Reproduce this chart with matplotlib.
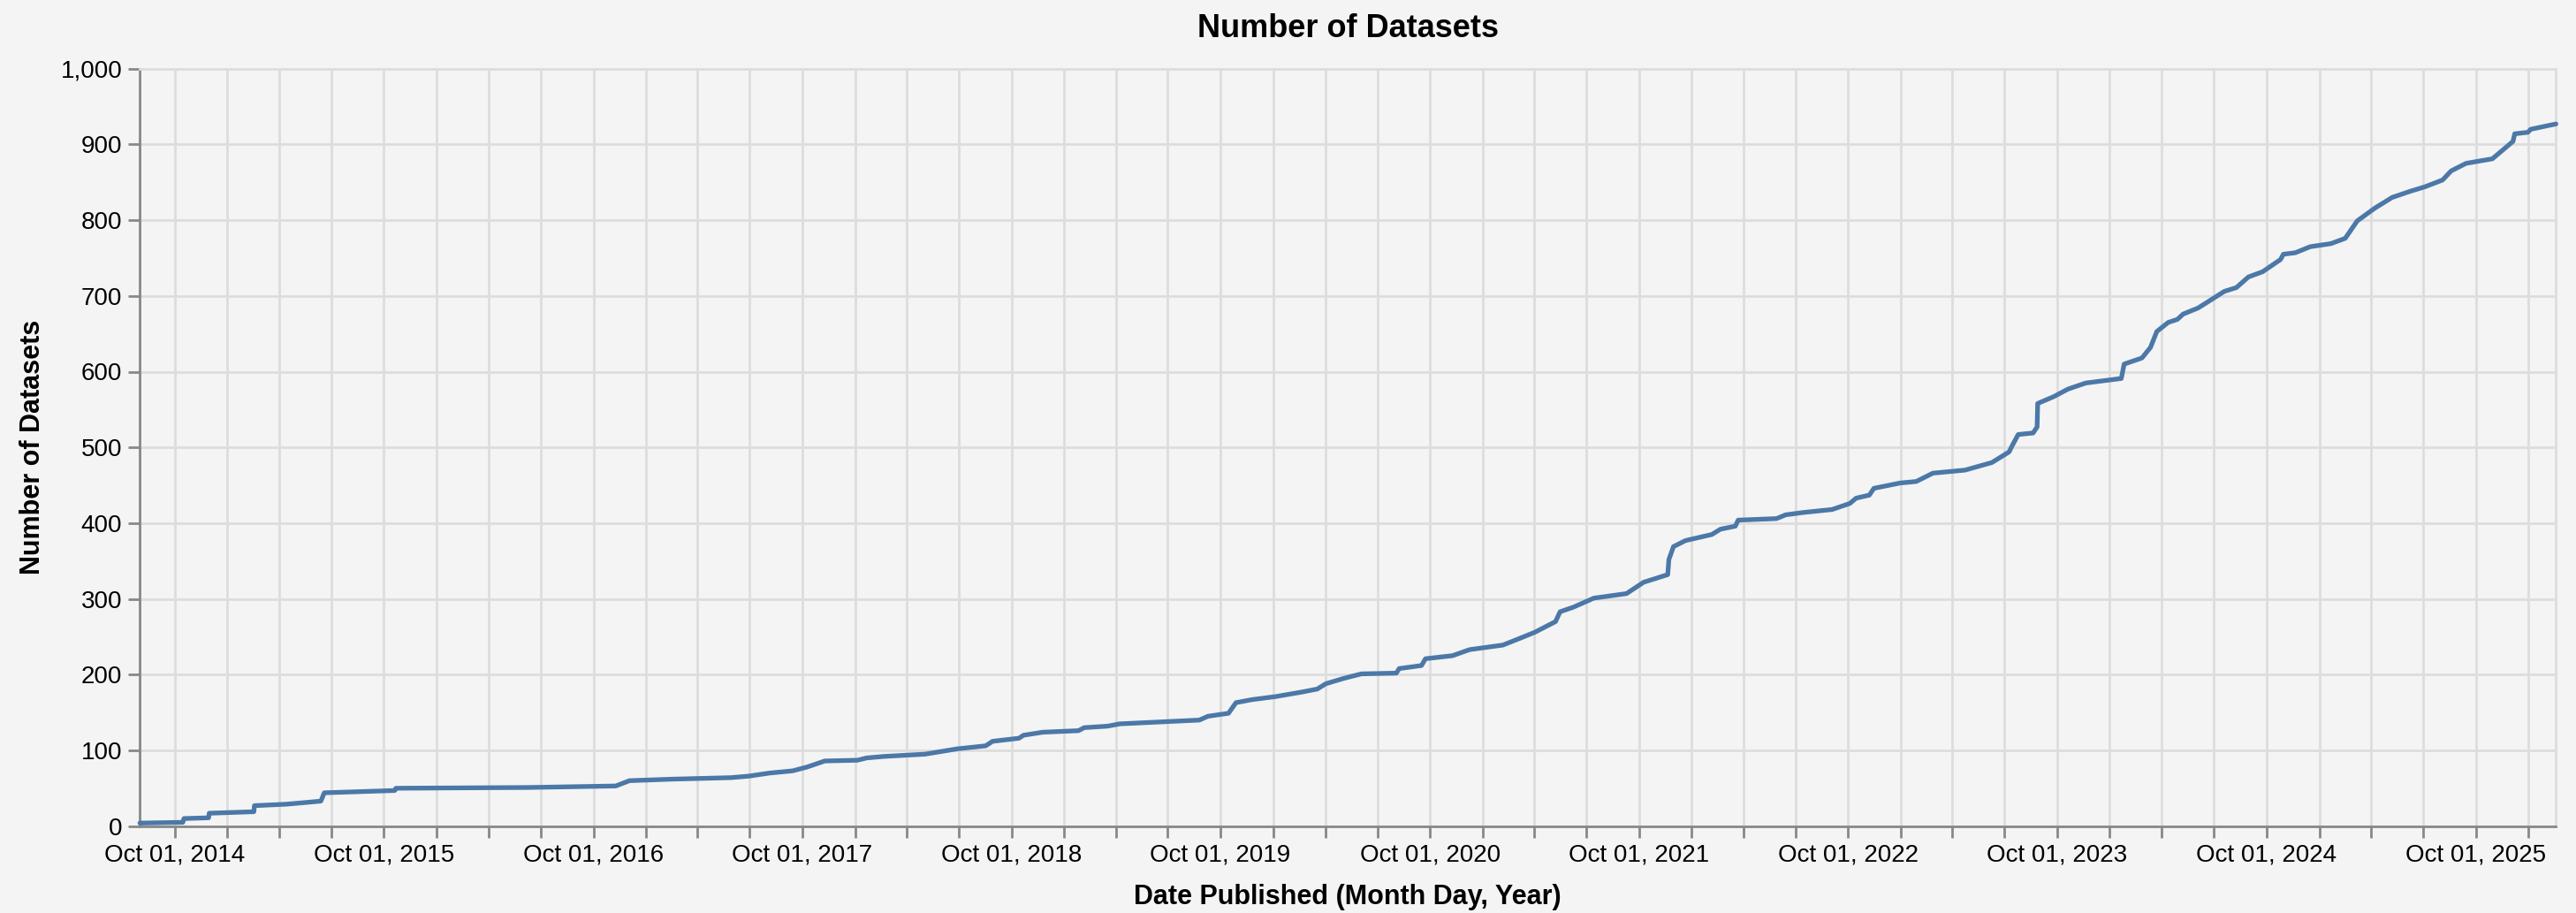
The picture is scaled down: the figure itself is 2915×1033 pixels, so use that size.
import matplotlib
matplotlib.use("Agg")
import matplotlib.pyplot as plt
import matplotlib.dates as mdates
import numpy as np
from matplotlib.ticker import FuncFormatter, FixedLocator

# ---- data ----
dates = [
    "2014-08-01", "2014-10-15", "2014-10-17", "2014-11-29", "2014-11-30",
    "2015-02-16", "2015-02-17", "2015-04-15", "2015-06-13", "2015-06-19",
    "2015-10-20", "2015-10-22", "2016-06-08", "2016-11-09", "2016-12-03",
    "2017-02-15", "2017-05-29", "2017-06-29", "2017-08-04", "2017-09-14",
    "2017-10-09", "2017-11-09", "2018-01-05", "2018-01-21", "2018-02-20",
    "2018-05-03", "2018-06-28", "2018-08-17", "2018-08-29", "2018-10-14",
    "2018-10-22", "2018-11-25", "2019-01-26", "2019-02-05", "2019-03-18",
    "2019-04-08", "2019-08-25", "2019-09-09", "2019-10-15", "2019-10-28",
    "2019-11-25", "2020-01-05", "2020-02-20", "2020-03-18", "2020-04-02",
    "2020-05-03", "2020-06-03", "2020-08-03", "2020-08-08", "2020-09-16",
    "2020-09-23", "2020-11-09", "2020-12-09", "2021-02-05", "2021-03-07",
    "2021-04-02", "2021-05-08", "2021-05-16", "2021-06-08", "2021-07-14",
    "2021-09-09", "2021-10-09", "2021-11-20", "2021-11-22", "2021-11-30",
    "2021-12-21", "2022-02-05", "2022-02-20", "2022-03-18", "2022-03-23",
    "2022-05-29", "2022-06-14", "2022-07-14", "2022-09-03", "2022-10-04",
    "2022-10-15", "2022-11-07", "2022-11-15", "2022-12-31", "2023-01-28",
    "2023-02-26", "2023-04-23", "2023-06-09", "2023-07-09", "2023-07-15",
    "2023-07-25", "2023-08-20", "2023-08-27", "2023-08-28", "2023-09-25",
    "2023-10-20", "2023-11-20", "2024-01-21", "2024-01-26", "2024-02-26",
    "2024-03-12", "2024-03-23", "2024-04-12", "2024-04-28", "2024-05-08",
    "2024-06-03", "2024-06-24", "2024-07-19", "2024-08-09", "2024-08-30",
    "2024-09-24", "2024-10-25", "2024-10-30", "2024-11-20", "2024-12-16",
    "2025-01-21", "2025-02-15", "2025-03-08", "2025-04-08", "2025-05-08",
    "2025-06-08", "2025-07-04", "2025-08-04", "2025-08-19", "2025-09-14",
    "2025-10-30", "2025-12-05", "2025-12-08", "2025-12-31", "2026-01-05",
    "2026-01-30", "2026-02-18",
]
counts = [
    4, 5, 10, 11, 17,
    19, 27, 29, 33, 44,
    47, 50, 51, 53, 60,
    62, 64, 66, 70, 73,
    78, 86, 87, 90, 92,
    95, 102, 106, 112, 116,
    120, 124, 126, 130, 132,
    135, 140, 145, 149, 163,
    167, 171, 177, 181, 188,
    195, 201, 202, 208, 212,
    221, 225, 233, 239, 248,
    256, 270, 283, 289, 301,
    307, 322, 332, 352, 369,
    377, 385, 392, 396, 404,
    406, 411, 414, 418, 426,
    433, 437, 446, 453, 455,
    466, 470, 480, 494, 503,
    517, 519, 527, 558, 567,
    577, 585, 591, 610, 618,
    632, 653, 665, 669, 676,
    684, 694, 706, 711, 725,
    732, 748, 755, 757, 765,
    769, 776, 799, 816, 830,
    838, 844, 853, 865, 875,
    881, 904, 914, 916, 920,
    924, 927,
]
y_ticks = [0, 100, 200, 300, 400, 500, 600, 700, 800, 900, 1000]
x_start = "2014-08-01"
x_end = "2026-02-18"
title = "Number of Datasets"
x_title = "Date Published (Month Day, Year)"
y_title = "Number of Datasets"

# ---- style ----
W, H, DPI = 2915, 1033, 100
BG = "#f4f4f4"
GRID = "#dddddd"
DOMAIN = "#888888"
LINE = "#4c78a8"
FONT = ["Liberation Sans", "DejaVu Sans"]
plt.rcParams["font.family"] = FONT

fig = plt.figure(figsize=(W / DPI, H / DPI), dpi=DPI, facecolor=BG)
ax = fig.add_axes([158.3 / W, 1 - 934.7 / H, (2892.3 - 158.3) / W, (934.7 - 77.7) / H])
ax.set_facecolor(BG)

x = np.array(dates, dtype="datetime64[D]")
ax.plot(x, counts, color=LINE, lw=3.8, solid_joinstyle="round",
        solid_capstyle="round", zorder=3, clip_on=False)

ax.set_xlim(np.datetime64(x_start), np.datetime64(x_end))
ax.set_ylim(y_ticks[0], y_ticks[-1])

ax.xaxis.set_major_locator(mdates.MonthLocator(bymonth=[10], bymonthday=1))
ax.xaxis.set_minor_locator(mdates.MonthLocator(bymonth=[1, 4, 7], bymonthday=1))
ax.xaxis.set_major_formatter(mdates.DateFormatter("%b %d, %Y"))
ax.yaxis.set_major_locator(FixedLocator(y_ticks))
ax.yaxis.set_major_formatter(FuncFormatter(lambda v, p: f"{int(v):,}"))

ax.grid(True, which="both", color=GRID, lw=2.0, zorder=0)
ax.set_axisbelow(True)

for s in ("left", "bottom"):
    ax.spines[s].set_color(DOMAIN)
    ax.spines[s].set_linewidth(2.0)
for s in ("top", "right"):
    ax.spines[s].set_color(GRID)
    ax.spines[s].set_linewidth(2.0)

ax.tick_params(axis="both", which="both", length=9.4, width=2.0, color=DOMAIN,
               labelsize=20, labelcolor="#000000")
ax.tick_params(axis="x", which="both", pad=5)
ax.tick_params(axis="y", pad=5)

fig.text((158.3 + 2892.3) / 2 / W, 1 - 33 / H, title, ha="center", va="center",
         fontsize=26, fontweight="bold", color="#000000")
fig.text((158.3 + 2892.3) / 2 / W, 1 - 1015 / H, x_title, ha="center", va="center",
         fontsize=22, fontweight="bold", color="#000000")
fig.text(37 / W, 1 - 506 / H, y_title, ha="center", va="center", rotation=90,
         fontsize=22, fontweight="bold", color="#000000")

fig.savefig("out.png", dpi=DPI, facecolor=BG)
